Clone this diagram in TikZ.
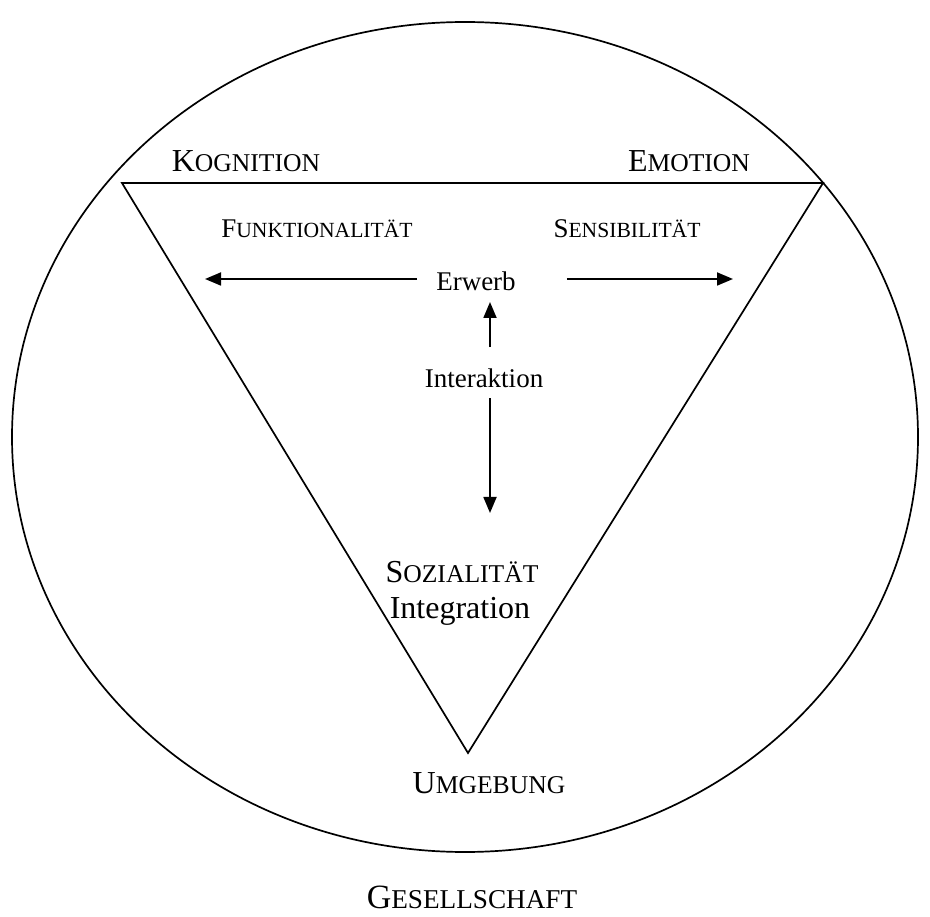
\documentclass[tikz,border=0pt]{standalone}
\usepackage{fontspec}
\setmainfont{Liberation Serif}
\usetikzlibrary{arrows.meta,positioning}
% Kapitaelchen nachgebaut: erster Buchstabe gross, Rest kleiner
\newcommand{\kapit}[4]{{\fontsize{#1}{#1}\selectfont #3}{\fontsize{#2}{#2}\selectfont #4}}
\tikzset{
	gross/.style={
		anchor=base,
		inner sep=0pt
	},
	pfeil/.style={
		line width=1.8pt,
		-{Triangle[length=16pt,width=13pt]}
	},
	rand/.style={
		line width=1.7pt
	},
}

\begin{document}
\begin{tikzpicture}[x=1pt,y=-1pt]
			\useasboundingbox (0,0) rectangle (930,917);
			\draw[rand] (465,437) ellipse (453 and 415);
			% Dreieck
			\coordinate (eckeK) at (122,183);
			\coordinate (eckeE) at (823,183);
			\coordinate (eckeU) at (468,753);
			\draw[rand,line join=miter] (eckeK) -- (eckeE) -- (eckeU) -- cycle;
			\node[gross] (kog) at (246,172) {\kapit{32}{25.6}{K}{OGNITION}};
			\node[gross] (emo) at (689,172) {\kapit{32}{25.6}{E}{MOTION}};
			\node[gross] (funk) at (317,238) {\kapit{27}{21.6}{F}{UNKTIONALITÄT}};
			\node[gross] (sens) at (627,238) {\kapit{27}{21.6}{S}{ENSIBILITÄT}};
			\node[gross,font=\fontsize{27}{27}\selectfont] (erw) at (476,291) {Erwerb};
			\node[gross,font=\fontsize{27}{27}\selectfont] (inter) at (484,388) {Interaktion};
			\node[gross] (soz) at (462,582) {\kapit{32}{25.6}{S}{OZIALITÄT}};
			\node[gross,font=\fontsize{32}{32}\selectfont] (integ) at (460,618) {Integration};
			\node[gross] (umg) at (489,793) {\kapit{32}{25.6}{U}{MGEBUNG}};
			\node[gross] (ges) at (472,908) {\kapit{34}{27.2}{G}{ESELLSCHAFT}};
			% Pfeile
			\coordinate (links) at (205,279);
			\coordinate (rechts) at (733,279);
			\coordinate (oben) at (490,302);
			\coordinate (unten) at (490,513);
			\draw[pfeil] (links -| erw.west) ++(-19,0) -- (links);
			\draw[pfeil] (rechts -| erw.east) ++(51,0) -- (rechts);
			\draw[pfeil] (inter.north -| oben) ++(0,-22) -- (oben);
			\draw[pfeil] (inter.south -| oben) ++(0,10) -- (unten);
\end{tikzpicture}
\end{document}
